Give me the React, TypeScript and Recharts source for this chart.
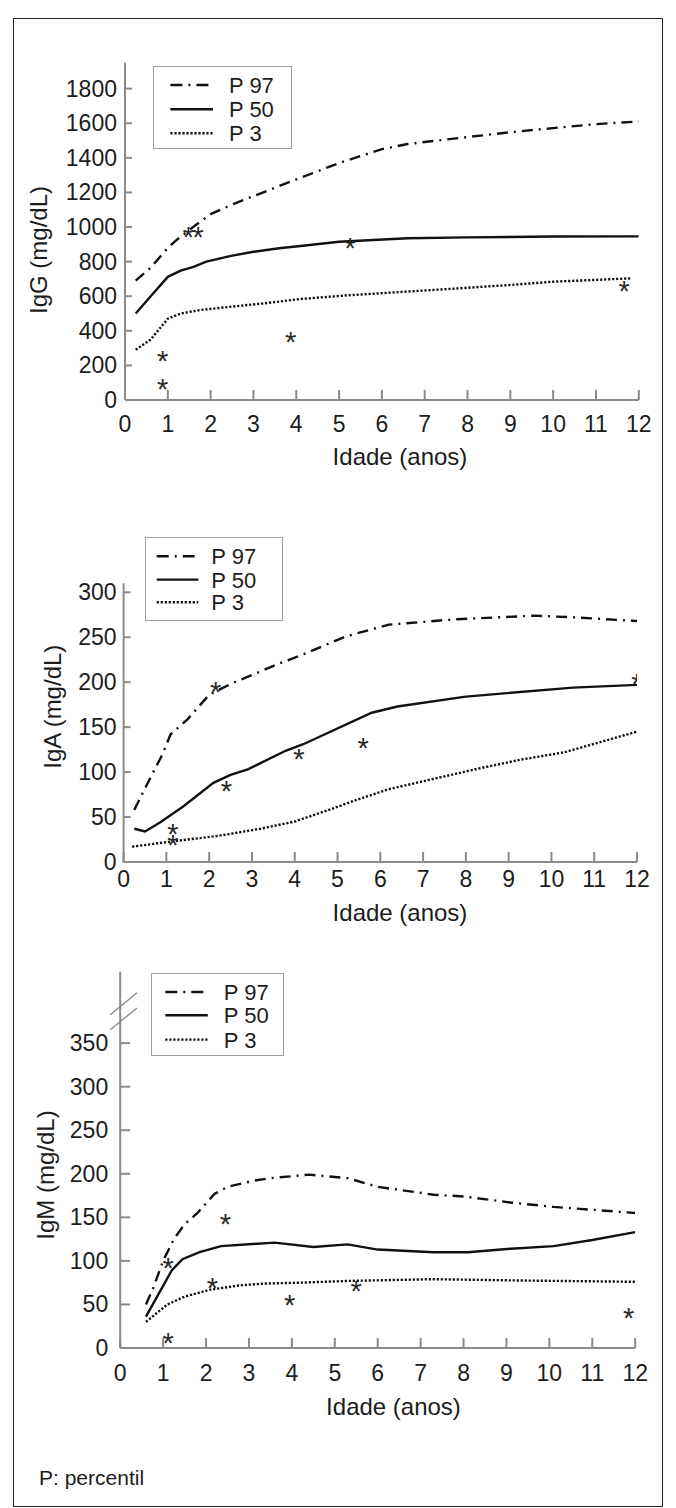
import { ComposedChart, Line, Scatter, XAxis, YAxis } from "recharts";

const FONT = "'Liberation Sans', Arial, Helvetica, sans-serif";
const INK = "#1c1c1c";
const AXIS = "#8a8a8a";

// age axis (years)
const ageTicks = [0, 1, 2, 3, 4, 5, 6, 7, 8, 9, 10, 11, 12];

// IgG (mg/dL)
const iggTicks = [0, 200, 400, 600, 800, 1000, 1200, 1400, 1600, 1800];
const iggP97 = [[0.25, 690], [0.6, 765], [1, 880], [1.3, 945], [1.7, 1020], [2, 1075], [2.6, 1140], [3.2, 1198], [4, 1275], [5, 1370], [6, 1450], [6.6, 1480], [8, 1520], [9, 1548], [10, 1572], [11, 1595], [12, 1610]];
const iggP50 = [[0.25, 500], [0.6, 600], [1, 712], [1.3, 748], [1.6, 770], [1.9, 800], [2.45, 832], [3, 857], [3.6, 877], [4.1, 890], [5, 915], [6.6, 935], [8, 940], [10, 945], [12, 946]];
const iggP3 = [[0.25, 290], [0.6, 350], [1, 470], [1.3, 500], [1.75, 520], [2.5, 540], [3.3, 560], [4.1, 584], [5.3, 607], [7.2, 636], [9, 665], [10, 684], [11.8, 703]];
const iggCases = [[0.88, 255], [0.88, 92], [1.48, 970], [1.71, 970], [3.87, 362], [5.26, 905], [11.66, 660]];

// IgA (mg/dL)
const igaTicks = [0, 50, 100, 150, 200, 250, 300];
const igaP97 = [[0.25, 58], [0.65, 96], [0.9, 119], [1.1, 142], [1.5, 159], [2, 186], [2.5, 198], [3.1, 210], [3.65, 221], [4.2, 231], [5.2, 251], [6.2, 264], [7.75, 270], [9.6, 274], [10.6, 272], [12, 268]];
const igaP50 = [[0.25, 37], [0.5, 34], [0.85, 44], [1.4, 62], [2.1, 88], [2.5, 97], [2.9, 103], [3.2, 110], [3.8, 124], [4.2, 131], [5.8, 166], [6.4, 173], [8, 184], [10.5, 194], [12, 197]];
const igaP3 = [[0.2, 17], [1.15, 23], [2.2, 29], [3.2, 37], [4, 45], [4.8, 58], [5.5, 70], [6.2, 81], [7.2, 92], [8.3, 104], [9.3, 114], [10.3, 122], [12, 145]];
const igaCases = [[1.15, 37], [1.15, 24], [2.15, 195], [2.4, 85], [4.1, 120], [5.6, 132], [12, 204]];

// IgM (mg/dL)
const igmTicks = [0, 50, 100, 150, 200, 250, 300, 350];
const igmP97 = [[0.6, 50], [0.77, 69], [1, 100], [1.25, 125], [1.5, 142], [1.8, 155], [2.2, 177], [2.5, 185], [3.1, 192], [3.5, 195], [4.4, 199], [5.3, 195], [6, 185], [7.3, 176], [8, 174], [9.1, 167], [10.1, 162], [12, 155]];
const igmP50 = [[0.6, 36], [1.2, 89], [1.45, 102], [1.85, 110], [2.35, 117], [3.6, 121], [4.5, 116], [5.3, 119], [6, 113], [7.3, 110], [8.1, 110], [9.1, 114], [10.1, 117], [11, 124], [12, 133]];
const igmP3 = [[0.6, 30], [1.1, 50], [1.5, 59], [2.1, 67], [2.8, 72], [3.4, 74], [4.2, 75], [5.3, 77], [7.3, 79], [9.3, 77.5], [12, 76]];
const igmCases = [[1.12, 98], [2.45, 148], [2.15, 75], [3.95, 55], [1.12, 11], [5.5, 71], [11.85, 40]];

const toPts = (rows: number[][]) => rows.map(([x, y]) => ({ x, y }));

const styles = [
  { name: "P 97", dash: "11 6 2 6", legendDash: "12 6 2 6" },
  { name: "P 50", dash: undefined, legendDash: undefined },
  { name: "P 3", dash: "2.2 1.8", legendDash: "2.2 1.8" },
];

function Star(props: any) {
  const { cx, cy } = props;
  if (cx == null || cy == null) return null;
  return (
    <text x={cx} y={cy + 15} textAnchor="middle" fontSize={29} fontFamily={FONT} fill="#2a2a2a">
      *
    </text>
  );
}

type PanelProps = {
  top: number;
  height: number;
  margin: { top: number; right: number; bottom: number; left: number };
  yDomain: [number, number];
  yTicks: number[];
  yLabel: string;
  yLabelPos: [number, number];
  xLabelPos: [number, number];
  xTickDrop: number;
  yTickGap: number;
  yTickLen: number;
  series: number[][][];
  cases: number[][];
  legend: { left: number; top: number; width: number; height: number; x1: number; x2: number; tx: number; rows: number[] };
  children?: any;
};

function Panel(p: PanelProps) {
  const xTick = (t: any) => (
    <g>
      <line x1={t.x} y1={t.y} x2={t.x} y2={t.y - 10} stroke={AXIS} strokeWidth={2} />
      <text x={t.x} y={t.y + p.xTickDrop} textAnchor="middle" fontSize={23} fontFamily={FONT} fill={INK}>
        {t.payload.value}
      </text>
    </g>
  );
  const yTick = (t: any) => (
    <g>
      <line x1={t.x} y1={t.y} x2={t.x + p.yTickLen} y2={t.y} stroke={AXIS} strokeWidth={2} />
      <text x={t.x - p.yTickGap} y={t.y + 8} textAnchor="end" fontSize={23} fontFamily={FONT} fill={INK}>
        {t.payload.value}
      </text>
    </g>
  );
  const [lx, ly] = p.yLabelPos;
  const [tx, ty] = p.xLabelPos;
  const lg = p.legend;
  return (
    <div style={{ position: "absolute", left: 0, top: p.top, width: 676, height: p.height }}>
      <ComposedChart width={676} height={p.height} margin={p.margin}>
        <XAxis
          type="number"
          dataKey="x"
          domain={[0, 12]}
          ticks={ageTicks}
          interval={0}
          height={30}
          tickSize={0}
          tickMargin={0}
          tickLine={false}
          axisLine={{ stroke: AXIS, strokeWidth: 2 }}
          tick={xTick}
          allowDataOverflow
          label={{
            content: () => (
              <text x={tx} y={ty} textAnchor="middle" fontSize={24} fontFamily={FONT} fill={INK}>
                Idade (anos)
              </text>
            ),
          }}
        />
        <YAxis
          type="number"
          domain={p.yDomain}
          ticks={p.yTicks}
          interval={0}
          width={60}
          tickSize={0}
          tickMargin={0}
          tickLine={false}
          axisLine={{ stroke: AXIS, strokeWidth: 2 }}
          tick={yTick}
          allowDataOverflow
          label={{
            content: () => (
              <text
                x={lx}
                y={ly}
                transform={`rotate(-90 ${lx} ${ly})`}
                textAnchor="middle"
                dominantBaseline="central"
                fontSize={24}
                fontFamily={FONT}
                fill={INK}
              >
                {p.yLabel}
              </text>
            ),
          }}
        />
        {p.series.map((rows, i) => (
          <Line
            key={styles[i].name}
            data={toPts(rows)}
            dataKey="y"
            name={styles[i].name}
            type="linear"
            stroke="#111"
            strokeWidth={2.4}
            strokeDasharray={styles[i].dash}
            dot={false}
            activeDot={false}
            isAnimationActive={false}
          />
        ))}
        <Scatter data={toPts(p.cases)} dataKey="y" shape={Star} isAnimationActive={false} />
      </ComposedChart>
      <div
        style={{
          position: "absolute",
          left: lg.left,
          top: lg.top,
          width: lg.width,
          height: lg.height,
          border: "1px solid #a0a0a0",
          background: "#fff",
          boxSizing: "border-box",
        }}
      >
        <svg width={lg.width} height={lg.height} style={{ position: "absolute", left: -1, top: -1 }}>
          {styles.map((s, i) => (
            <g key={s.name}>
              <line x1={lg.x1} x2={lg.x2} y1={lg.rows[i]} y2={lg.rows[i]} stroke="#111" strokeWidth={2.4} strokeDasharray={s.legendDash} />
              <text x={lg.tx} y={lg.rows[i] + 8} fontSize={22} fontFamily={FONT} fill={INK}>
                {s.name}
              </text>
            </g>
          ))}
        </svg>
      </div>
      {p.children}
    </div>
  );
}

export default function App() {
  return (
    <div style={{ position: "absolute", left: 0, top: 0, width: 676, height: 1508, background: "#fff", overflow: "hidden" }}>
      <div style={{ position: "absolute", left: 13, top: 18, width: 650, height: 1489, border: "1px solid #222", boxSizing: "border-box" }} />
      <Panel
        top={20}
        height={480}
        margin={{ top: 42.7, right: 37.2, bottom: 70, left: 65 }}
        yDomain={[0, 1950]}
        yTicks={iggTicks}
        yLabel="IgG (mg/dL)"
        yLabelPos={[38.4, 230]}
        xLabelPos={[400, 445]}
        xTickDrop={32}
        yTickGap={8}
        yTickLen={7}
        series={[iggP97, iggP50, iggP3]}
        cases={iggCases}
        legend={{ left: 152.6, top: 46, width: 139, height: 83, x1: 17.4, x2: 60, tx: 76, rows: [19, 43.3, 67.3] }}
      />
      <Panel
        top={500}
        height={440}
        margin={{ top: 83.3, right: 39, bottom: 48, left: 63.6 }}
        yDomain={[0, 310]}
        yTicks={igaTicks}
        yLabel="IgA (mg/dL)"
        yLabelPos={[53, 206.7]}
        xLabelPos={[400, 421]}
        xTickDrop={25}
        yTickGap={7}
        yTickLen={7}
        series={[igaP97, igaP50, igaP3]}
        cases={igaCases}
        legend={{ left: 145.3, top: 36.7, width: 138, height: 84, x1: 11.7, x2: 53.3, tx: 66.3, rows: [19.3, 42.6, 65.3] }}
      />
      <Panel
        top={940}
        height={560}
        margin={{ top: 31.7, right: 40.8, bottom: 122, left: 60.2 }}
        yDomain={[0, 432]}
        yTicks={igmTicks}
        yLabel="IgM (mg/dL)"
        yLabelPos={[45.5, 235]}
        xLabelPos={[393.5, 475]}
        xTickDrop={33}
        yTickGap={12}
        yTickLen={10}
        series={[igmP97, igmP50, igmP3]}
        cases={igmCases}
        legend={{ left: 150.5, top: 32.7, width: 133, height: 83, x1: 14.3, x2: 56.8, tx: 72.8, rows: [19, 42.3, 66.6] }}
      >
        <svg width={676} height={120} style={{ position: "absolute", left: 0, top: 0, pointerEvents: "none" }}>
          <line x1={110} y1={75} x2={137} y2={52.7} stroke="#888" strokeWidth={1.3} />
          <line x1={110} y1={90} x2={137} y2={68} stroke="#888" strokeWidth={1.3} />
        </svg>
      </Panel>
      <div style={{ position: "absolute", left: 39, top: 1466, fontSize: 21, fontFamily: FONT, color: INK, lineHeight: "24px" }}>
        P: percentil
      </div>
    </div>
  );
}
